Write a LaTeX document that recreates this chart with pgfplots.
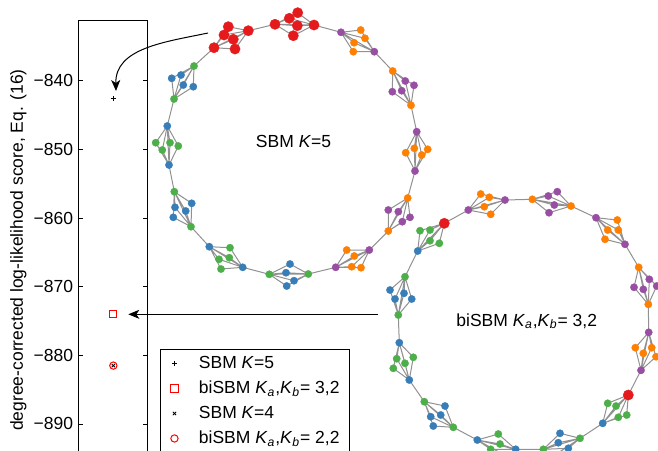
\documentclass[border=0pt]{standalone}
\usepackage{fontspec}
\setmainfont{Liberation Sans}
\usepackage{pgfplots}
\pgfplotsset{compat=1.18}
\usetikzlibrary{arrows.meta}
\definecolor{cred}{RGB}{228,26,28}
\definecolor{cblue}{RGB}{55,126,184}
\definecolor{cgreen}{RGB}{77,175,74}
\definecolor{cpurple}{RGB}{152,78,163}
\definecolor{corange}{RGB}{255,127,0}
\definecolor{edgegray}{RGB}{145,145,145}
\newcommand\ff{\fontsize{10.5pt}{12.6pt}\selectfont}
\newcommand\Ka{\textit{K}\textsubscript{\textit{a}}}
\newcommand\Kb{\textit{K}\textsubscript{\textit{b}}}
\pgfplotsset{
  nd/.style={only marks, mark=*, mark size=2.2pt, mark options={fill=#1, draw=#1, line width=0.2pt}},
  bignd/.style={only marks, mark=*, mark size=3.1pt, mark options={fill=#1, draw=#1, line width=0.2pt}},
  edg/.style={edgegray, line width=0.6pt, no marks},
}
\begin{document}
\begin{tikzpicture}
\begin{axis}[
  at={(47.4pt,-12pt)}, anchor=north west,
  scale only axis, width=41.2pt, height=276pt,
  xmin=0, xmax=2, ymin=-898.16, ymax=-831.16,
  xtick=\empty, ytick={-890,-880,-870,-860,-850,-840},
  yticklabels={−890,−880,−870,−860,−850,−840},
  tick align=inside, major tick length=2.6pt,
  axis line style={line width=0.6pt}, tick style={line width=0.5pt, black},
  ticklabel style={font=\ff},
  ylabel={degree-corrected log-likelihood score, Eq. (16)},
  every axis y label/.style={at={(axis description cs:-0.8835,0.5)}, rotate=90, anchor=center, font=\ff},
  legend style={at={(axis description cs:1.179,0.2848)}, anchor=north west, draw=black, line width=0.6pt, font=\ff, inner xsep=6.2pt, inner ysep=2.9pt, row sep=4pt, column sep=0pt, cells={anchor=west}, nodes={inner sep=0pt, text height=8.5pt, text depth=2.5pt}},
  legend image code/.code={\path (0pt,0pt) (14.4pt,0pt); \draw[#1] plot coordinates {(0pt,0pt)};},
  clip=false,
]
\addplot[only marks, mark=+, mark size=1.6pt, line width=0.5pt, black] coordinates {(1,-842.6)};
\addlegendentry{SBM \textit{K}=5}
\addplot[only marks, mark=square, mark size=2.2pt, line width=0.6pt, red] coordinates {(1,-874.0)};
\addlegendentry{biSBM \Ka,\Kb= 3,2}
\addplot[only marks, mark=x, mark size=1.4pt, line width=0.5pt, black] coordinates {(1,-881.5)};
\addlegendentry{SBM \textit{K}=4}
\addplot[only marks, mark=o, mark size=2.2pt, line width=0.6pt, red] coordinates {(1,-881.5)};
\addlegendentry{biSBM \Ka,\Kb= 2,2}
\end{axis}

\begin{axis}[at={(0pt,0pt)}, anchor=north west, scale only axis, width=394.8pt, height=270.6pt,
  xmin=0, xmax=658, ymin=0, ymax=451, y dir=reverse, hide axis, clip=false, unbounded coords=jump]
% ring 1 edges
\addplot[edg] coordinates {
(214,47.7) (224,35) (248.3,30.7) (233.3,39.3) (214,47.7) (235,49) (248.3,30.7) (228.3,26.7) (214,47.7) (nan,nan)
(275,24.3) (289.3,18.3) (314,25) (297.7,12.7) (275,24.3) (297.3,25.7) (314,25) (293.3,35.7) (275,24.3) (nan,nan)
(341,32.3) (360.7,30) (374.3,51.7) (365,38.3) (341,32.3) (354,42.7) (374.3,51.7) (353.3,51.7) (341,32.3) (nan,nan)
(392.7,71) (405.3,81) (411,105.3) (414,85.3) (392.7,71) (392.3,91.7) (411,105.3) (401.7,90.7) (392.7,71) (nan,nan)
(416.7,131.7) (405.7,152.7) (415,171) (414.3,148.3) (416.7,131.7) (421.7,155) (415,171) (427.7,149.3) (416.7,131.7) (nan,nan)
(407.7,198) (388.3,210) (388.3,231) (398.3,211.7) (407.7,198) (410,217.3) (388.3,231) (402.3,221.7) (407.7,198) (nan,nan)
(369.3,250) (346.7,250) (335.7,267.3) (354.3,256) (369.3,250) (351.7,266.7) (335.7,267.3) (361,267.7) (369.3,250) (nan,nan)
(308.3,274) (290,264) (269.3,274.3) (286,272.7) (308.3,274) (294,280.7) (269.3,274.3) (286.7,286) (308.3,274) (nan,nan)
(242.7,267.3) (230,247.7) (209.3,246.7) (229.3,257.7) (242.7,267.3) (219,259.3) (209.3,246.7) (221,269) (242.7,267.3) (nan,nan)
(191,226.7) (191.7,203.3) (174.3,191.7) (185.7,211) (191,226.7) (175,207.3) (174.3,191.7) (173.3,217.3) (191,226.7) (nan,nan)
(169,165) (155.7,142.7) (167.3,126) (162.3,150) (169,165) (170,142.7) (167.3,126) (178.3,146) (169,165) (nan,nan)
(174,99) (171.7,78.3) (194,66) (181,75) (174,99) (183.3,85) (194,66) (193.3,86.7) (174,99) (nan,nan)
(214,47.7) (248.3,30.7) (275,24.3) (314,25) (341,32.3) (374.3,51.7) (392.7,71) (411,105.3) (416.7,131.7) (415,171) (407.7,198) (388.3,231) (369.3,250) (335.7,267.3) (308.3,274) (269.3,274.3) (242.7,267.3) (209.3,246.7) (191,226.7) (174.3,191.7) (169,165) (167.3,126) (174,99) (194,66) (214,47.7)
};
% ring 1 nodes
\addplot[bignd=cred] coordinates {(214,47.7) (224,35) (233.3,39.3) (235,49) (228.3,26.7) (248.3,30.7) (275,24.3) (289.3,18.3) (297.7,12.7) (297.3,25.7) (293.3,35.7) (314,25)};
\addplot[nd=cpurple] coordinates {(341,32.3) (374.3,51.7) (405.3,81) (414,85.3) (392.3,91.7) (401.7,90.7) (416.7,131.7) (415,171) (388.3,210) (398.3,211.7) (410,217.3) (402.3,221.7) (369.3,250) (335.7,267.3)};
\addplot[nd=corange] coordinates {(360.7,30) (365,38.3) (354,42.7) (353.3,51.7) (392.7,71) (411,105.3) (405.7,152.7) (414.3,148.3) (421.7,155) (427.7,149.3) (407.7,198) (388.3,231) (346.7,250) (354.3,256) (351.7,266.7) (361,267.7)};
\addplot[nd=cgreen] coordinates {(308.3,274) (269.3,274.3) (230,247.7) (229.3,257.7) (219,259.3) (221,269) (191,226.7) (174.3,191.7) (155.7,142.7) (162.3,150) (170,142.7) (178.3,146) (174,99) (194,66)};
\addplot[nd=cblue] coordinates {(290,264) (286,272.7) (294,280.7) (286.7,286) (242.7,267.3) (209.3,246.7) (191.7,203.3) (185.7,211) (175,207.3) (173.3,217.3) (169,165) (167.3,126) (171.7,78.3) (181,75) (183.3,85) (193.3,86.7)};
% ring 2 edges
\addplot[edg] coordinates {
(444.3,223.3) (420,230.7) (417.7,251) (430,230) (444.3,223.3) (430,240.7) (417.7,251) (439.3,243.3) (444.3,223.3) (nan,nan)
(405,276.7) (390,290) (398.3,315) (404,293.3) (405,276.7) (395,299) (398.3,315) (411.7,299) (405,276.7) (nan,nan)
(399.3,342.7) (413.3,357.3) (409.3,380) (396.7,358.7) (399.3,342.7) (405,363.3) (409.3,380) (393.3,368.3) (399.3,342.7) (nan,nan)
(424.3,401.7) (445,406) (453.3,427.3) (440.7,415) (424.3,401.7) (430.7,416.7) (453.3,427.3) (433.3,426) (424.3,401.7) (nan,nan)
(477.3,440) (498.3,434) (515.7,449.3) (500,444) (477.3,440) (490.7,449.3) (515.7,449.3) (506,456) (477.3,440) (nan,nan)
(543.3,449.3) (560,433.3) (580,438.3) (558.3,442.7) (543.3,449.3) (568.3,448.3) (580,438.3) (552,457) (543.3,449.3) (nan,nan)
(602.7,423.3) (607.7,403.3) (628.3,395) (616,406) (602.7,423.3) (618.3,417.3) (628.3,395) (626.7,415) (602.7,423.3) (nan,nan)
(641,370.3) (635.3,347.7) (648.7,332.3) (643.3,353.3) (641,370.3) (651.7,347.7) (648.7,332.3) (656,356.7) (641,370.3) (nan,nan)
(648.3,304.3) (649.3,279.3) (638.7,267.3) (656.7,286) (648.3,304.3) (634,287.3) (638.7,267.3) (643.3,289.3) (648.3,304.3) (nan,nan)
(625,244.3) (617.3,220) (596,217.7) (607.7,230) (625,244.3) (618.3,230) (596,217.7) (605,239.3) (625,244.3) (nan,nan)
(571,206) (548.3,196) (532.3,199.3) (557.3,191.7) (571,206) (554.3,205) (532.3,199.3) (549,212.7) (571,206) (nan,nan)
(505,200) (480.7,194) (468.3,210) (489.3,197.3) (505,200) (484.3,206.7) (468.3,210) (490.7,214.3) (505,200) (nan,nan)
(444.3,223.3) (417.7,251) (405,276.7) (398.3,315) (399.3,342.7) (409.3,380) (424.3,401.7) (453.3,427.3) (477.3,440) (515.7,449.3) (543.3,449.3) (580,438.3) (602.7,423.3) (628.3,395) (641,370.3) (648.7,332.3) (648.3,304.3) (638.7,267.3) (625,244.3) (596,217.7) (571,206) (532.3,199.3) (505,200) (468.3,210) (444.3,223.3)
};
% ring 2 nodes
\addplot[nd=cgreen] coordinates {(420,230.7) (430,230) (430,240.7) (439.3,243.3) (405,276.7) (398.3,315) (413.3,357.3) (396.7,358.7) (405,363.3) (393.3,368.3) (424.3,401.7) (453.3,427.3) (498.3,434) (500,444) (490.7,449.3) (506,456) (543.3,449.3) (580,438.3) (607.7,403.3) (616,406) (618.3,417.3) (626.7,415)};
\addplot[nd=cblue] coordinates {(417.7,251) (390,290) (404,293.3) (395,299) (411.7,299) (399.3,342.7) (409.3,380) (445,406) (440.7,415) (430.7,416.7) (433.3,426) (477.3,440) (515.7,449.3) (560,433.3) (558.3,442.7) (568.3,448.3) (552,457) (602.7,423.3)};
\addplot[nd=cpurple] coordinates {(641,370.3) (648.7,332.3) (649.3,279.3) (656.7,286) (634,287.3) (643.3,289.3) (625,244.3) (596,217.7) (548.3,196) (557.3,191.7) (554.3,205) (549,212.7) (505,200) (468.3,210)};
\addplot[nd=corange] coordinates {(635.3,347.7) (643.3,353.3) (651.7,347.7) (656,356.7) (648.3,304.3) (638.7,267.3) (617.3,220) (607.7,230) (618.3,230) (605,239.3) (571,206) (532.3,199.3) (480.7,194) (489.3,197.3) (484.3,206.7) (490.7,214.3)};
\addplot[bignd=cred] coordinates {(444.3,223.3) (628.3,395)};
% labels and arrows
\node[font=\ff, anchor=base] at (axis cs:293.5,147.3) {SBM \textit{K}=5};
\node[font=\ff, anchor=base] at (axis cs:526.7,326) {biSBM \Ka,\Kb= 3,2};
\draw[line width=0.6pt, -{Stealth[length=6.6pt,width=5.4pt,inset=1.8pt]}] (axis cs:208,33) .. controls (axis cs:165,42) and (axis cs:115,48) .. (axis cs:116,91);
\draw[line width=0.6pt, -{Stealth[length=6.6pt,width=5.4pt,inset=1.8pt]}] (axis cs:378,314.3) -- (axis cs:128.3,314.3);
\end{axis}
\pgfresetboundingbox
\path[use as bounding box] (0pt,0pt) rectangle (394.8pt,-270.6pt);
\end{tikzpicture}
\end{document}
